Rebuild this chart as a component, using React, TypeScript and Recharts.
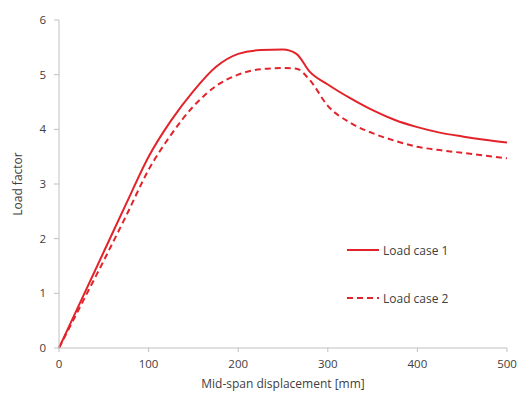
import { LineChart, Line, XAxis, YAxis, Legend } from 'recharts';

const displacement = [0, 25, 50, 75, 100, 125, 150, 175, 200, 225, 250, 265, 280, 300, 325, 350, 375, 400, 425, 450, 475, 500];
const loadCase1 = [0, 0.88, 1.76, 2.64, 3.5, 4.16, 4.7, 5.14, 5.38, 5.45, 5.46, 5.38, 5.05, 4.82, 4.57, 4.35, 4.17, 4.04, 3.94, 3.87, 3.81, 3.76];
const loadCase2 = [0, 0.8, 1.6, 2.42, 3.26, 3.9, 4.42, 4.79, 5.0, 5.1, 5.12, 5.11, 4.9, 4.43, 4.12, 3.93, 3.79, 3.68, 3.62, 3.57, 3.52, 3.47];
const xTicks = [0, 100, 200, 300, 400, 500];
const yTicks = [0, 1, 2, 3, 4, 5, 6];

const data = displacement.map((d, i) => ({ d, case1: loadCase1[i], case2: loadCase2[i] }));

const RED = '#e2232a';
const TEXT = '#404040';
const AXIS = '#c0c0c0';
const FONT = '"Open Sans", sans-serif';

function LegendBox({ payload }: any) {
  return (
    <div style={{ fontFamily: FONT, fontSize: 12, color: TEXT }}>
      {(payload || []).map((p: any, i: number) => (
        <div key={p.value} style={{ display: 'flex', alignItems: 'center', height: 16, marginBottom: i === 0 ? 32 : 0 }}>
          <svg width={32} height={6}>
            <line x1={0} y1={3} x2={32} y2={3} stroke={RED} strokeWidth={2} strokeDasharray={i === 1 ? '6 4' : undefined} />
          </svg>
          <span style={{ marginLeft: 4 }}>{p.value}</span>
        </div>
      ))}
    </div>
  );
}

export default function App() {
  return (
    <div style={{ position: 'absolute', left: 0, top: 0, background: '#fff' }}>
      <LineChart width={517} height={394} data={data} margin={{ top: 20, right: 10, bottom: 6, left: 0 }}>
        <XAxis
          dataKey="d"
          type="number"
          domain={[0, 500]}
          ticks={xTicks}
          stroke={AXIS}
          tickSize={4}
          tickMargin={8}
          height={40}
          tick={{ fill: TEXT, fontSize: 11.5, fontFamily: FONT }}
          label={{ value: 'Mid-span displacement [mm]', position: 'insideBottom', offset: 0, fill: TEXT, fontSize: 12, fontFamily: FONT }}
        />
        <YAxis
          type="number"
          domain={[0, 6]}
          ticks={yTicks}
          stroke={AXIS}
          tickSize={5}
          tickMargin={8}
          width={59}
          tick={{ fill: TEXT, fontSize: 11.5, fontFamily: FONT }}
          label={{ value: 'Load factor', angle: -90, position: 'insideLeft', offset: 18, fill: TEXT, fontSize: 12, fontFamily: FONT, style: { textAnchor: 'middle' } }}
        />
        <Legend
          layout="vertical"
          align="center"
          verticalAlign="middle"
          content={<LegendBox />}
          wrapperStyle={{ position: 'absolute', left: 347, top: 242, width: 'auto' }}
        />
        <Line type="monotone" dataKey="case1" name="Load case 1" stroke={RED} strokeWidth={2} dot={false} isAnimationActive={false} />
        <Line type="monotone" dataKey="case2" name="Load case 2" stroke={RED} strokeWidth={2} strokeDasharray="6 4" dot={false} isAnimationActive={false} />
      </LineChart>
    </div>
  );
}
